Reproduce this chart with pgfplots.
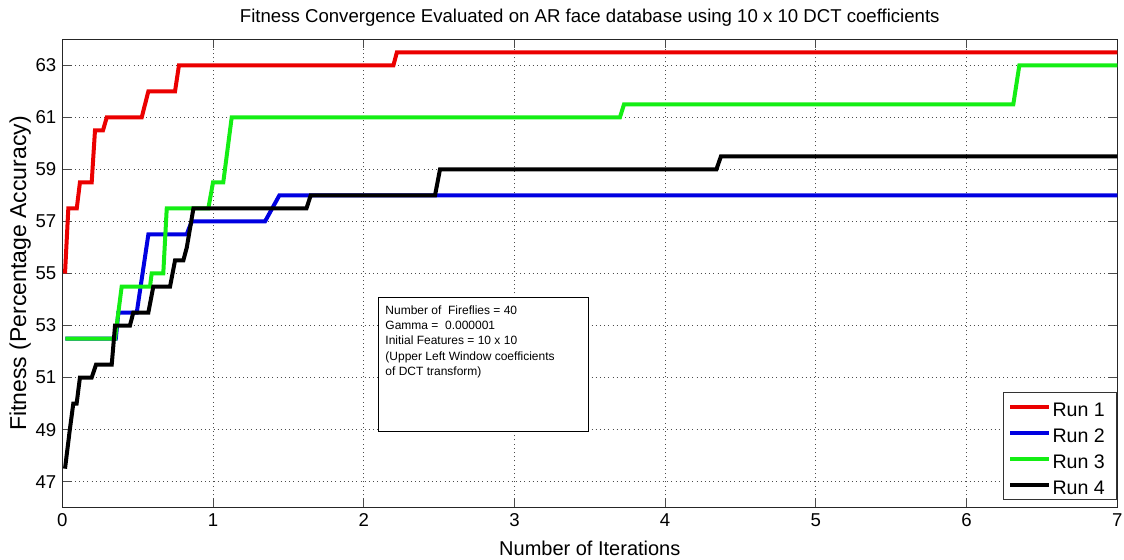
\documentclass[border=0pt]{standalone}
\usepackage{fontspec}
\setmainfont{Liberation Sans}
\usepackage{pgfplots}
\pgfplotsset{compat=1.18}
\definecolor{runred}{RGB}{235,0,0}
\definecolor{runblue}{RGB}{0,0,225}
\definecolor{rungreen}{RGB}{20,238,20}
\begin{document}
\begin{tikzpicture}
\useasboundingbox (-31.15pt,-26.15pt) rectangle (530.85pt,253.85pt);
\begin{axis}[
  at={(0,0)}, anchor=south west,
  scale only axis, width=527.5pt, height=234.2pt,
  xmin=0, xmax=7, ymin=46, ymax=64,
  xtick={0,1,2,3,4,5,6,7},
  ytick={47,49,51,53,55,57,59,61,63},
  /pgf/number format/assume math mode=true,
  tick align=inside,
  major tick length=4.5pt,
  tick style={line width=0.5pt, black!70},
  axis line style={line width=0.5pt, black!85},
  grid=major,
  major grid style={line width=0.45pt, black!70, dash pattern=on 0.5pt off 1.6pt},
  ticklabel style={font=\fontsize{9.3}{11}\selectfont},
  yticklabel style={inner sep=0pt, xshift=-2.8pt},
  xticklabel style={inner sep=0pt, yshift=-2.65pt},
  every axis title shift=0pt,
  title={Fitness Convergence Evaluated on AR face database using 10 x 10 DCT coefficients},
  title style={at={(axis description cs:0.5,1.0359)}, anchor=base, font=\fontsize{9.3}{11}\selectfont, inner sep=0pt},
  xlabel={Number of Iterations},
  xlabel style={at={(axis description cs:0.5,-0.1014)}, anchor=base, font=\fontsize{10}{12}\selectfont, inner sep=0pt},
  ylabel={Fitness (Percentage Accuracy)},
  ylabel style={at={(axis description cs:-0.0342,0.5)}, anchor=base, rotate=0, font=\fontsize{11.5}{13}\selectfont, inner sep=0pt},
  legend style={at={(axis description cs:1,0.0164)}, anchor=south east,
    draw=black!80, line width=0.5pt, fill=white,
    font=\fontsize{9.8}{11}\selectfont,
    inner xsep=0pt, inner ysep=0.75pt, row sep=0pt, column sep=0pt,
    nodes={inner sep=0pt, text height=11.1pt, text depth=1.9pt, anchor=base west},
    cells={anchor=west}},
  legend image code/.code={\path[draw=none] (0pt,0pt) -- (24.5pt,0pt); \draw[#1, line width=2pt] (3.35pt,4.7pt) -- (22.5pt,4.7pt);},
  legend cell align=left,
]
\addplot[runred, line width=2pt] coordinates {
(0.018,55) (0.04,57.5) (0.096,57.5) (0.117,58.5) (0.195,58.5) (0.217,60.5) (0.27,60.5) (0.295,61) (0.527,61) (0.571,62) (0.748,62) (0.774,63) (2.197,63) (2.22,63.5) (7,63.5)};
\addlegendentry{Run 1\hspace*{6pt}}
\addplot[runblue, line width=2pt] coordinates {
(0.02,52.5) (0.355,52.5) (0.372,53.5) (0.494,53.5) (0.571,56.5) (0.825,56.5) (0.859,57) (1.345,57) (1.44,58) (7,58)};
\addlegendentry{Run 2\hspace*{6pt}}
\addplot[rungreen, line width=2pt] coordinates {
(0.02,52.5) (0.35,52.5) (0.394,54.5) (0.582,54.5) (0.593,55) (0.67,55) (0.693,57.5) (0.969,57.5) (1.0,58.5) (1.068,58.5) (1.124,61) (3.70,61) (3.727,61.5) (6.31,61.5) (6.35,63) (7,63)};
\addlegendentry{Run 3\hspace*{6pt}}
\addplot[black, line width=2pt] coordinates {
(0.018,47.5) (0.05,49) (0.073,50) (0.095,50) (0.117,51) (0.195,51) (0.224,51.5) (0.328,51.5) (0.35,53) (0.449,53) (0.471,53.5) (0.571,53.5) (0.604,54.5) (0.715,54.5) (0.748,55.5) (0.803,55.5) (0.826,56) (0.87,57.5) (1.62,57.5) (1.648,58) (2.473,58) (2.506,59) (4.34,59) (4.37,59.5) (7,59.5)};
\addlegendentry{Run 4\hspace*{6pt}}
\draw[black, line width=0.5pt, fill=white] (axis cs:2.095,54.06) rectangle (axis cs:3.489,48.91);
\node[anchor=north west, align=left, inner sep=0pt, font=\fontsize{6}{7.7}\selectfont, xshift=3.5pt, yshift=-3.5pt] at (axis cs:2.095,54.06) {Number of\ \ Fireflies = 40\\Gamma =\ \ 0.000001\\Initial Features = 10 x 10\\(Upper Left Window coefficients\\of DCT transform)};
\end{axis}
\end{tikzpicture}
\end{document}
